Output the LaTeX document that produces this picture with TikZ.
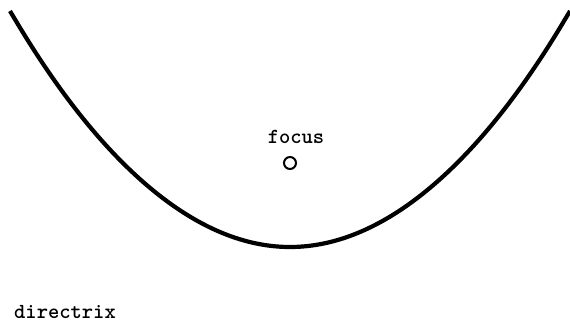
\documentclass[tikz,border=0pt]{standalone}
\usepackage{fontspec}
\usetikzlibrary{positioning}
\begin{document}
\begin{tikzpicture}[
  x=1pt, y=1pt,
  lbl/.style={font=\ttfamily\bfseries\fontsize{21.5}{24}\selectfont, inner sep=0pt},
  curve/.style={draw=black, line width=4.2pt},
  pt/.style={circle, draw=black, line width=2pt, minimum size=12pt, inner sep=0pt}
]
\useasboundingbox (0,0) rectangle (570,329);
\draw[curve] (10,318) parabola bend (290,82) (570,318);
\node[pt] (f) at (290,166) {};
\node[lbl, anchor=base] (fl) at (296,185) {focus};
\node[lbl, anchor=base west] (d) at (14,10) {directrix};
\end{tikzpicture}
\end{document}
